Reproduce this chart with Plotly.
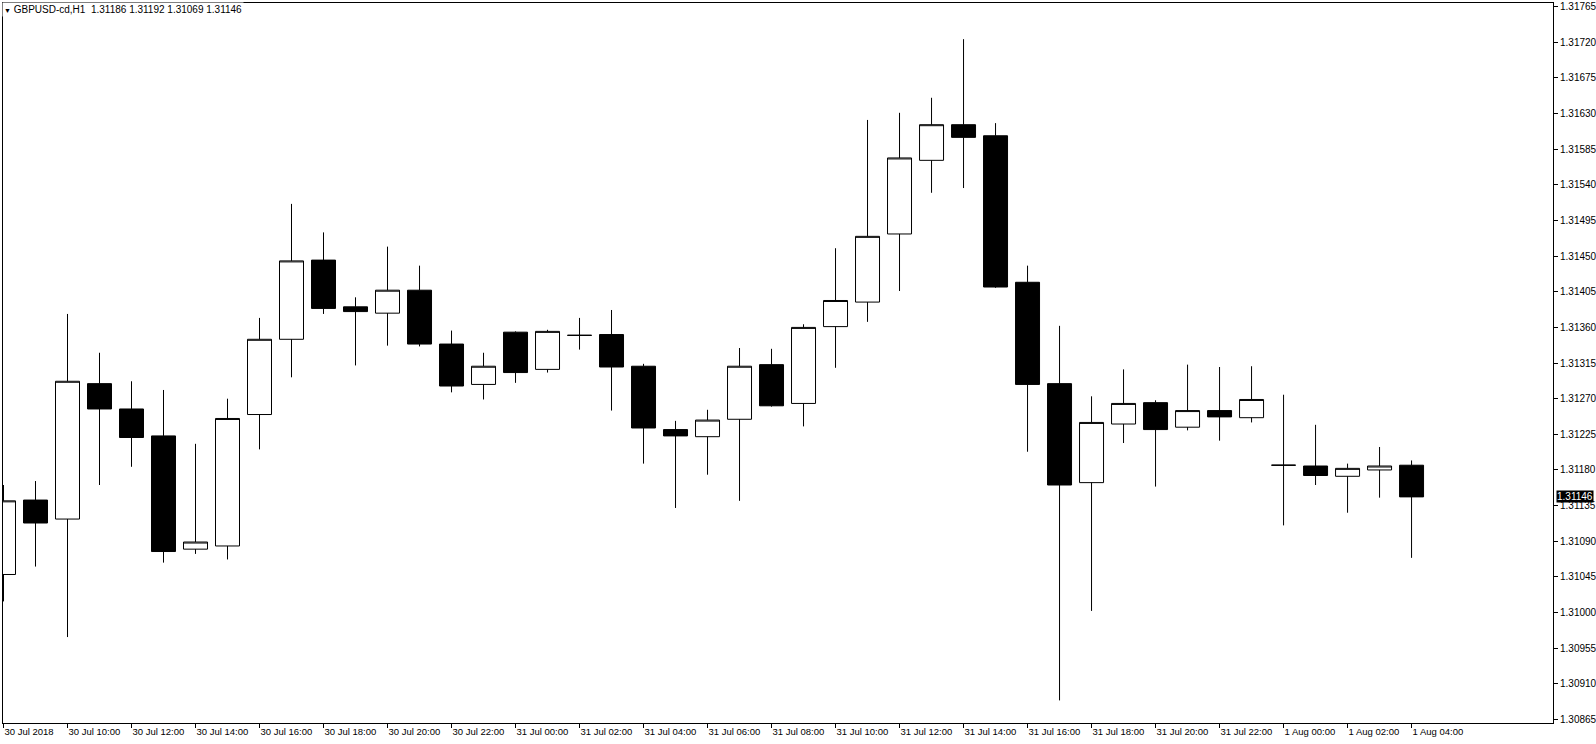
import plotly.graph_objects as go
import pandas as pd

# ---- data ----
start_time = "2018-07-30 08:00"
n_bars = 45
open_ = [1.31048, 1.31142, 1.31118, 1.31289, 1.31257, 1.31223, 1.31080, 1.31084, 1.31250, 1.31345,
         1.31445, 1.31386, 1.31378, 1.31407, 1.31339, 1.31288, 1.31354, 1.31307, 1.31350, 1.31351,
         1.31311, 1.31231, 1.31222, 1.31244, 1.31313, 1.31264, 1.31361, 1.31392, 1.31478, 1.31571,
         1.31616, 1.31602, 1.31417, 1.31289, 1.31164, 1.31238, 1.31265, 1.31234, 1.31255, 1.31246,
         1.31186, 1.31185, 1.31172, 1.31180, 1.31186]
high = [1.31161, 1.31166, 1.31377, 1.31328, 1.31292, 1.31281, 1.31213, 1.31270, 1.31372, 1.31516,
        1.31480, 1.31398, 1.31462, 1.31438, 1.31356, 1.31328, 1.31355, 1.31357, 1.31372, 1.31382,
        1.31314, 1.31242, 1.31256, 1.31334, 1.31333, 1.31364, 1.31460, 1.31622, 1.31631, 1.31650,
        1.31724, 1.31618, 1.31438, 1.31362, 1.31273, 1.31307, 1.31268, 1.31313, 1.31310, 1.31311,
        1.31275, 1.31237, 1.31188, 1.31209, 1.31192]
low = [1.31014, 1.31058, 1.30969, 1.31161, 1.31184, 1.31063, 1.31074, 1.31067, 1.31206, 1.31297,
       1.31377, 1.31312, 1.31337, 1.31336, 1.31278, 1.31269, 1.31290, 1.31303, 1.31332, 1.31255,
       1.31188, 1.31132, 1.31174, 1.31141, 1.31260, 1.31235, 1.31309, 1.31367, 1.31406, 1.31530,
       1.31536, 1.31410, 1.31203, 1.30889, 1.31002, 1.31214, 1.31159, 1.31230, 1.31217, 1.31240,
       1.31110, 1.31161, 1.31126, 1.31145, 1.31069]
close = [1.31141, 1.31113, 1.31292, 1.31257, 1.31221, 1.31077, 1.31089, 1.31245, 1.31345, 1.31444,
         1.31384, 1.31380, 1.31407, 1.31339, 1.31286, 1.31311, 1.31303, 1.31355, 1.31350, 1.31310,
         1.31233, 1.31223, 1.31243, 1.31311, 1.31261, 1.31360, 1.31394, 1.31475, 1.31574, 1.31616,
         1.31600, 1.31411, 1.31288, 1.31161, 1.31240, 1.31264, 1.31231, 1.31255, 1.31247, 1.31269,
         1.31186, 1.31173, 1.31182, 1.31185, 1.31146]
tick_labels = ["30 Jul 2018", "30 Jul 10:00", "30 Jul 12:00", "30 Jul 14:00", "30 Jul 16:00",
               "30 Jul 18:00", "30 Jul 20:00", "30 Jul 22:00", "31 Jul 00:00", "31 Jul 02:00",
               "31 Jul 04:00", "31 Jul 06:00", "31 Jul 08:00", "31 Jul 10:00", "31 Jul 12:00",
               "31 Jul 14:00", "31 Jul 16:00", "31 Jul 18:00", "31 Jul 20:00", "31 Jul 22:00",
               "1 Aug 00:00", "1 Aug 02:00", "1 Aug 04:00"]
symbol_title = "GBPUSD-cd,H1"
last_price = 1.31146

times = pd.date_range(start_time, periods=n_bars, freq="h")
tick_times = times[::2]

FONT = "Liberation Sans, Arial, sans-serif"

fig = go.Figure(go.Candlestick(
    x=times, open=open_, high=high, low=low, close=close,
    increasing=dict(fillcolor="white", line=dict(color="black", width=1)),
    decreasing=dict(fillcolor="black", line=dict(color="black", width=1)),
    whiskerwidth=0, showlegend=False, hoverinfo="x+y",
))

t0 = times[0]
x_left = t0 - pd.Timedelta(hours=0.0156)
x_right = t0 + pd.Timedelta(hours=48.42)

fig.update_layout(
    width=1596, height=744,
    margin=dict(l=3, r=43, t=3, b=21, pad=0, autoexpand=False),
    paper_bgcolor="white", plot_bgcolor="white",
    boxgap=0.25, boxgroupgap=0,
    font=dict(family=FONT, size=10, color="black"),
    xaxis=dict(
        range=[x_left, x_right], rangeslider=dict(visible=False),
        tickmode="array", tickvals=tick_times, ticktext=tick_labels,
        tickangle=0, automargin=False,
        ticks="outside", ticklen=4, tickwidth=1, tickcolor="black",
        ticklabelposition="outside right",
        showgrid=False, zeroline=False,
        showline=True, linecolor="black", linewidth=1, mirror=True,
        tickfont=dict(family=FONT, size=9.5, color="black"),
    ),
    yaxis=dict(
        side="right", range=[1.3086046, 1.3176967], automargin=False,
        tick0=1.30865, dtick=0.00045, tickformat=".5f",
        ticks="outside", ticklen=4, tickwidth=1, tickcolor="black",
        showgrid=False, zeroline=False,
        showline=True, linecolor="black", linewidth=1, mirror=True,
        tickfont=dict(family=FONT, size=10, color="black"),
    ),
)

fig.add_annotation(
    xref="paper", yref="paper", x=-0.0008, y=1 - 7 / 720, xanchor="left", yanchor="middle",
    text="<span style='font-size:7px'>▼</span> " + symbol_title + "\u00a0\u00a0"
         + " ".join(f"{v:.5f}" for v in [open_[-1], high[-1], low[-1], close[-1]]),
    showarrow=False, bgcolor="white", borderpad=1,
    font=dict(family=FONT, size=10, color="black"),
)
fig.add_annotation(
    xref="paper", yref="y", x=1, y=last_price, xanchor="left", yanchor="middle",
    xshift=3, text=f"{last_price:.5f}", showarrow=False, bgcolor="black", borderpad=0,
    font=dict(family=FONT, size=10, color="white"),
)

fig.write_html("out.html", config={"displayModeBar": False},
               post_script="document.body.style.margin='0';document.body.style.overflow='hidden';")
